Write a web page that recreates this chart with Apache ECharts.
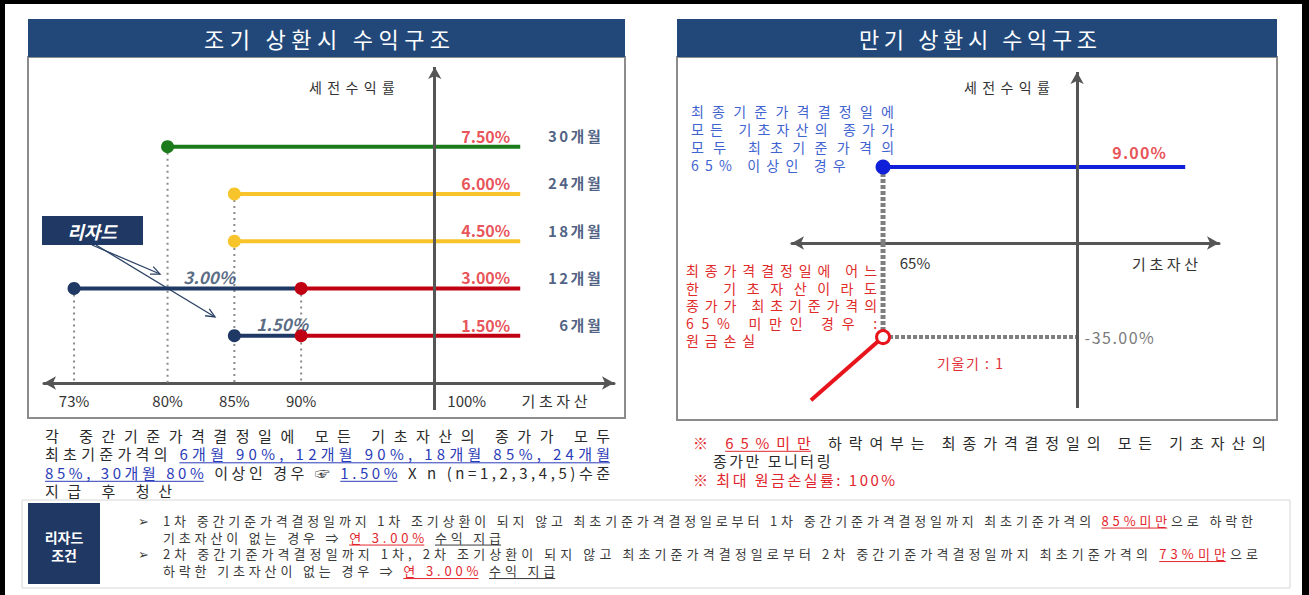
<!DOCTYPE html>
<html>
<head>
<meta charset="utf-8">
<script src="https://cdn.jsdelivr.net/npm/echarts@6/dist/echarts.min.js"></script>
<style>
  html, body { margin: 0; padding: 0; background: #fff; }
  #chart { width: 1309px; height: 595px; }
</style>
</head>
<body>
<div id="chart"></div>
<script>
// 조기 상환시 수익구조 (left)
const periods = ['30개월', '24개월', '18개월', '12개월', '6개월'];
const coupons = [7.5, 6.0, 4.5, 3.0, 1.5];
const barriers = [80, 85, 85, 90, 90];
const lizardBarriers = [null, null, null, 73, 85];
const lizardCoupons = [null, null, null, 3.0, 1.5];
const lineEnd = 106.4;
const earlyTicks = [73, 80, 85, 90, 100];

// 만기 상환시 수익구조 (right)
const maturityBarrier = 65;
const maturityCoupon = 9.0;
const maturityEnd = 119.5;
const lossAtBarrier = -35.0;
const lossLine = [[65, -35], [52, -58.5]];
const maturityTicks = [65];

const FONT = '"Noto Sans CJK KR", "Noto Sans", sans-serif';
const navy = '#1f3864';
const red = '#e2262e';
const dark = '#2a2a2a';
const linkBlue = '#2b3cb8';
const lineColors = ['#1b7a1b', '#f7c42b', '#f7c42b', '#c00012', '#c00012'];

// pixel layout of the plot areas
const LG = { left: 44, top: 67, right: 614, bottom: 383, xMin: 70.75, xMax: 113.42, yMin: 0, yMax: 10.03 };
const LB = { left: 44, top: 383, right: 614, bottom: 410, xMin: 70.75, xMax: 113.42, yMin: -0.857, yMax: 0 };
const RT = { left: 792, top: 72, right: 1219, bottom: 243, xMin: 48.58, xMax: 125.6, yMin: 0, yMax: 20.25 };
const RB = { left: 792, top: 243, right: 1219, bottom: 408, xMin: 48.58, xMax: 125.6, yMin: -61.4, yMax: 0 };

function gridOf(g) {
  return { left: g.left, top: g.top, width: g.right - g.left, height: g.bottom - g.top, outerBoundsMode: 'none' };
}

// ---------- text helpers (letter-spaced rows, like the source document) ----------
const mctx = document.createElement('canvas').getContext('2d');
function tw(t, font) { mctx.font = font; return mctx.measureText(t).width; }
const spacing = {};
function spaceKey(text, size, weight) {
  return text + '|' + size + '|' + (String(weight || '').indexOf('bold') >= 0 ? '700' : '400');
}

function textRow(out, pieces, opt) {
  const size = opt.size || 16;
  const weight = opt.weight || 'normal';
  const font = weight + ' ' + size + 'px ' + FONT;
  const spaceW = tw(' ', font);
  const parts = pieces.map(p => {
    const core = p[0].trim();
    const lead = p[0].length - p[0].replace(/^ +/, '').length;
    const trail = p[0].length - p[0].replace(/ +$/, '').length;
    return { lead: core ? lead : 0, trail: core ? trail : p[0].length, core,
      n: Array.from(core).length, w: core ? tw(core, font) : 0, c: p[1], u: !!p[2] };
  });
  const natural = parts.reduce((s, p) => s + (p.lead + p.trail) * spaceW + p.w, 0);
  const nChars = parts.reduce((s, p) => s + p.lead + p.trail + p.n, 0);
  let ls = opt.ls || 0;
  if (opt.x1 != null) ls = (opt.x1 - opt.x0 - natural) / (nChars - 1);
  let x = opt.x0;
  parts.forEach(p => {
    x += p.lead * (spaceW + ls);
    if (p.core) {
      out.push({ type: 'text', x: x, y: opt.y,
        style: { text: p.core, font: font, fill: p.c, align: 'left', verticalAlign: 'middle' } });
      spacing[spaceKey(p.core, size, weight)] = ls;
      if (p.u) {
        const uy = opt.y + size * 0.62;
        out.push({ type: 'line', shape: { x1: x, y1: uy, x2: x + p.w + (p.n - 1) * ls, y2: uy },
          style: { stroke: p.c, lineWidth: 1 } });
      }
      x += p.w + p.n * ls;
    }
    x += p.trail * (spaceW + ls);
  });
  return ls;
}

function spacedText(out, text, cx, y, size, color, width, weight) {
  textRow(out, [[text, color]], { x0: cx - width / 2, x1: cx + width / 2, y: y, size: size, weight: weight });
}

function label(out, text, x, y, size, color, weight) {
  out.push({ type: 'text', x: x, y: y,
    style: { text: text, font: (weight || 'normal') + ' ' + size + 'px ' + FONT,
      fill: color, align: 'center', verticalAlign: 'middle' } });
}

function arrow(out, x1, y1, x2, y2) {
  const a = Math.atan2(y2 - y1, x2 - x1), L = 10, s = 0.42;
  out.push({ type: 'line', shape: { x1, y1, x2, y2 }, style: { stroke: '#2c4366', lineWidth: 1.3 } });
  out.push({ type: 'polyline', shape: { points: [
      [x2 - L * Math.cos(a - s), y2 - L * Math.sin(a - s)], [x2, y2],
      [x2 - L * Math.cos(a + s), y2 - L * Math.sin(a + s)]] },
    style: { stroke: '#2c4366', lineWidth: 1.3, fill: 'none' } });
}

// ---------- graphic (frames, panels, notes) ----------
const g = [];
g.push({ type: 'rect', shape: { x: 0, y: 0, width: 1309, height: 4 }, style: { fill: '#000' } });
g.push({ type: 'rect', shape: { x: 0, y: 0, width: 5, height: 595 }, style: { fill: '#000' } });
g.push({ type: 'rect', shape: { x: 1302, y: 0, width: 7, height: 595 }, style: { fill: '#000' } });

[[28, 625, 418, '조기 상환시 수익구조', 327, 246], [677, 1277, 420, '만기 상환시 수익구조', 978, 238]].forEach(p => {
  g.push({ type: 'rect', shape: { x: p[0], y: 57, width: p[1] - p[0], height: p[2] - 57 },
    style: { fill: '#fff', stroke: '#8c8c8c', lineWidth: 2 } });
  g.push({ type: 'rect', shape: { x: p[0], y: 19, width: p[1] - p[0], height: 38 }, style: { fill: '#22487a' } });
  spacedText(g, p[3], p[4], 38, 22, '#fff', p[5]);
});

// axis titles
spacedText(g, '세전수익률', 353, 87, 14, '#333', 88);
spacedText(g, '기초자산', 556, 400, 15, '#333', 69);
spacedText(g, '세전수익률', 1007, 87, 14, '#333', 86);
spacedText(g, '기초자산', 1165, 263, 15, '#333', 66);
spacedText(g, '기울기 : 1', 970, 363, 14, '#e0303a', 66);

// 리자드 tag and arrows
g.push({ type: 'rect', shape: { x: 42, y: 216, width: 101, height: 29 }, style: { fill: navy } });
label(g, '리자드', 92, 231, 18, '#fff', 'italic bold');
arrow(g, 92, 245, 160, 274);
arrow(g, 96, 245, 215, 317);

// notes inside the maturity panel
const blueNote = '#3f63cf';
const lsB = textRow(g, [['모든 기초자산의 종가가', blueNote]], { x0: 691, x1: 894, y: 129, size: 14 });
textRow(g, [['최종기준가격결정일에', blueNote]], { x0: 691, x1: 894, y: 111, size: 14 });
textRow(g, [['모두 최초기준가격의', blueNote]], { x0: 691, x1: 894, y: 147, size: 14 });
textRow(g, [['65% 이상인 경우', blueNote]], { x0: 691, y: 165, size: 14, ls: lsB });

const redNote = '#e02a2a';
const lsR = textRow(g, [['최종가격결정일에 어느', redNote]], { x0: 686, x1: 877, y: 270, size: 14 });
textRow(g, [['한 기초자산이라도', redNote]], { x0: 686, x1: 877, y: 287.5, size: 14 });
textRow(g, [['종가가 최초기준가격의', redNote]], { x0: 686, x1: 877, y: 305, size: 14 });
textRow(g, [['65% 미만인 경우 :', redNote]], { x0: 686, x1: 877, y: 322.5, size: 14 });
textRow(g, [['원금손실', redNote]], { x0: 686, y: 340, size: 14, ls: lsR });

// text under the left panel
const lsL = textRow(g, [['각 중간기준가격결정일에 모든 기초자산의 종가가 모두', dark]], { x0: 45, x1: 610, y: 435, size: 15 });
textRow(g, [['최초기준가격의 ', dark], ['6개월 90%, 12개월 90%, 18개월 85%, 24개월', linkBlue, 1]],
  { x0: 45, x1: 610, y: 453.5, size: 15 });
textRow(g, [['85%, 30개월 80%', linkBlue, 1], [' 이상인 경우 ☞ ', dark], ['1.50%', linkBlue, 1], [' X n (n=1,2,3,4,5)수준', dark]],
  { x0: 45, x1: 610, y: 472, size: 15 });
textRow(g, [['지급 후 청산', dark]], { x0: 45, y: 490.5, size: 15, ls: lsL });

// text under the right panel
textRow(g, [['※ ', red], ['65%미만', red, 1], [' 하락여부는 최종가격결정일의 모든 기초자산의', dark]],
  { x0: 693, x1: 1266, y: 442, size: 15 });
textRow(g, [['종가만 모니터링', dark]], { x0: 713, y: 460.5, size: 15, ls: 2.5 });
textRow(g, [['※ 최대 원금손실률: 100%', red]], { x0: 693, y: 479, size: 15, ls: 2.5 });

// 리자드 조건 box
g.push({ type: 'rect', shape: { x: 22, y: 500, width: 1268, height: 88 }, style: { fill: 'none', stroke: '#d6d6d6', lineWidth: 1 } });
g.push({ type: 'rect', shape: { x: 28, y: 503, width: 72, height: 81 }, style: { fill: navy } });
label(g, '리자드', 64, 537, 14, '#fff', 'bold');
label(g, '조건', 64, 555, 14, '#fff', 'bold');
const bodyC = '#3a3a3a';
label(g, '➢', 143, 520, 13, bodyC);
label(g, '➢', 143, 553.5, 13, bodyC);
const lsC = textRow(g, [['1차 중간기준가격결정일까지 1차 조기상환이 되지 않고 최초기준가격결정일로부터 1차 중간기준가격결정일까지 최초기준가격의 ', bodyC],
  ['85%미만', red, 1], ['으로 하락한', bodyC]], { x0: 163, x1: 1253, y: 520, size: 13 });
textRow(g, [['기초자산이 없는 경우 ⇒ ', bodyC], ['연 3.00%', red, 1], [' ', bodyC], ['수익 지급', bodyC, 1]],
  { x0: 163, y: 537, size: 13, ls: lsC });
textRow(g, [['2차 중간기준가격결정일까지 1차, 2차 조기상환이 되지 않고 최초기준가격결정일로부터 2차 중간기준가격결정일까지 최초기준가격의 ', bodyC],
  ['73%미만', red, 1], ['으로', bodyC]], { x0: 163, x1: 1258, y: 553.5, size: 13 });
textRow(g, [['하락한 기초자산이 없는 경우 ⇒ ', bodyC], ['연 3.00%', red, 1], [' ', bodyC], ['수익 지급', bodyC, 1]],
  { x0: 163, y: 570.5, size: 13, ls: lsC });

// series labels that are letter-spaced in the source
periods.forEach(p => { spacing[spaceKey(p, 15, 'bold')] = 2.5; });
spacing[spaceKey('-35.00%', 16, 'normal')] = 1.5;
spacing[spaceKey('9.00%', 16, 'bold')] = 1.2;

// ---------- series ----------
const series = [];
const axisStyle = { color: '#555', width: 3 };
const yAxisLine = (arrowTop) => ({
  silent: true, symbol: ['none', arrowTop ? 'arrow' : 'none'], symbolSize: [10, 12],
  label: { show: false }, lineStyle: Object.assign({ type: 'solid' }, axisStyle), data: [{ xAxis: 100 }]
});

// dotted guides from each start dot down to the x axis
const guideTop = {};
barriers.forEach((b, i) => { guideTop[b] = Math.max(guideTop[b] || 0, coupons[i]); });
lizardBarriers.forEach((b, i) => { if (b != null) guideTop[b] = Math.max(guideTop[b] || 0, lizardCoupons[i]); });
Object.keys(guideTop).forEach((k, idx) => {
  series.push({
    type: 'line', xAxisIndex: 0, yAxisIndex: 0, silent: true, symbol: 'none', z: 1,
    data: [[+k, guideTop[k]], [+k, 0]],
    lineStyle: { color: '#8a8a8a', width: 2, type: [2, 4] },
    markLine: idx === 0 ? yAxisLine(true) : undefined
  });
});
// y axis continues below the x axis
series.push({ type: 'line', xAxisIndex: 1, yAxisIndex: 1, silent: true, symbol: 'none',
  data: [[100, 0]], markLine: yAxisLine(false) });

periods.forEach((p, i) => {
  series.push({
    type: 'line', name: p, xAxisIndex: 0, yAxisIndex: 0, z: 3,
    symbol: 'circle', showSymbol: true,
    data: [{ value: [barriers[i], coupons[i]], symbolSize: 13 }, { value: [lineEnd, coupons[i]], symbolSize: 0 }],
    itemStyle: { color: lineColors[i] },
    lineStyle: { color: lineColors[i], width: 4 }
  });
  if (lizardBarriers[i] != null) {
    series.push({
      type: 'line', name: p + ' 리자드', xAxisIndex: 0, yAxisIndex: 0, z: 2,
      symbol: 'circle', showSymbol: true,
      data: [{ value: [lizardBarriers[i], lizardCoupons[i]], symbolSize: 13 }, { value: [barriers[i], lizardCoupons[i]], symbolSize: 0 }],
      itemStyle: { color: navy },
      lineStyle: { color: navy, width: 4 }
    });
  }
});

const hidden = { color: 'rgba(0,0,0,0)' };
series.push({
  type: 'scatter', xAxisIndex: 0, yAxisIndex: 0, symbolSize: 1, itemStyle: hidden, z: 4, silent: true,
  data: coupons.map(c => [lineEnd, c]),
  label: { show: true, position: 'inside', align: 'right', offset: [-10, -11],
    formatter: d => d.value[1].toFixed(2) + '%', color: red, fontWeight: 'bold', fontSize: 16 }
});
series.push({
  type: 'scatter', xAxisIndex: 0, yAxisIndex: 0, symbolSize: 1, itemStyle: hidden, z: 4, silent: true,
  data: coupons.map((c, i) => ({ value: [lineEnd, c], name: periods[i] })),
  label: { show: true, position: 'inside', align: 'right', offset: [83, -11],
    formatter: d => d.name, color: navy, fontWeight: 'bold', fontSize: 15 }
});
const lizOffsets = { 3: [-66, -12], 4: [7, -12] };
series.push({
  type: 'scatter', xAxisIndex: 0, yAxisIndex: 0, symbolSize: 1, itemStyle: hidden, z: 4, silent: true,
  data: lizardCoupons.map((c, i) => c == null ? null : {
    value: [barriers[i], c], label: { offset: lizOffsets[i] } }).filter(Boolean),
  label: { show: true, position: 'inside', align: 'right',
    formatter: d => d.value[1].toFixed(2) + '%', color: '#2f4565', fontWeight: 'bold', fontStyle: 'italic', fontSize: 17 }
});

// maturity chart, upper half
series.push({
  type: 'line', xAxisIndex: 2, yAxisIndex: 2, silent: true, symbol: 'none', z: 1,
  data: [[maturityBarrier, maturityCoupon], [maturityBarrier, 0]],
  lineStyle: { color: '#7f7f7f', width: 5, type: [4, 2] },
  markLine: yAxisLine(true)
});
series.push({
  type: 'line', name: '만기 수익', xAxisIndex: 2, yAxisIndex: 2, z: 3, symbol: 'circle', showSymbol: true,
  data: [{ value: [maturityBarrier, maturityCoupon], symbolSize: 15 }, { value: [maturityEnd, maturityCoupon], symbolSize: 0 }],
  itemStyle: { color: '#1020d8' }, lineStyle: { color: '#1020d8', width: 4 }
});
series.push({
  type: 'scatter', xAxisIndex: 2, yAxisIndex: 2, symbolSize: 1, itemStyle: hidden, z: 4, silent: true,
  data: [[maturityEnd, maturityCoupon]],
  label: { show: true, position: 'inside', align: 'right', offset: [-18, -15],
    formatter: d => d.value[1].toFixed(2) + '%', color: red, fontWeight: 'bold', fontSize: 16 }
});

// maturity chart, lower half
series.push({
  type: 'line', xAxisIndex: 3, yAxisIndex: 3, silent: true, symbol: 'none', z: 1,
  data: [[maturityBarrier, 0], [maturityBarrier, lossAtBarrier]],
  lineStyle: { color: '#7f7f7f', width: 5, type: [4, 2] },
  markLine: yAxisLine(false)
});
series.push({
  type: 'line', xAxisIndex: 3, yAxisIndex: 3, silent: true, symbol: 'none', z: 1,
  data: [[maturityBarrier, lossAtBarrier], [100, lossAtBarrier]],
  lineStyle: { color: '#7f7f7f', width: 4, type: [4, 2] }
});
series.push({
  type: 'scatter', xAxisIndex: 3, yAxisIndex: 3, symbolSize: 1, itemStyle: hidden, z: 4, silent: true,
  data: [[100, lossAtBarrier]],
  label: { show: true, position: 'right', distance: 7,
    formatter: d => d.value[1].toFixed(2) + '%', color: '#555', fontSize: 16 }
});
series.push({
  type: 'line', name: '원금손실', xAxisIndex: 3, yAxisIndex: 3, z: 3, symbol: 'circle', showSymbol: true,
  data: [{ value: lossLine[0], symbolSize: 13 }, { value: lossLine[1], symbolSize: 0 }],
  itemStyle: { color: '#fff', borderColor: '#e8141c', borderWidth: 3 },
  lineStyle: { color: '#e8141c', width: 4 }
});

// ---------- axes ----------
const xAxisBase = {
  type: 'value', splitLine: { show: false }, axisTick: { show: false },
  axisLine: { onZero: true, symbol: ['arrow', 'arrow'], symbolSize: [10, 12], lineStyle: axisStyle }
};
const hiddenX = (gi, r) => ({ type: 'value', gridIndex: gi, min: r.xMin, max: r.xMax, show: false, splitLine: { show: false } });
const yAxisOf = (gi, r) => ({ type: 'value', gridIndex: gi, min: r.yMin, max: r.yMax, show: false, splitLine: { show: false } });

const chart = echarts.init(document.getElementById('chart'), null, { renderer: 'svg' });

function applySpacing() {
  chart.getDom().querySelectorAll('text').forEach(n => {
    const cs = getComputedStyle(n);
    const key = n.textContent + '|' + parseFloat(cs.fontSize) + '|' + (parseInt(cs.fontWeight, 10) >= 600 ? '700' : '400');
    const ls = spacing[key];
    if (ls) {
      n.setAttribute('letter-spacing', ls.toFixed(2));
      n.style.letterSpacing = ls.toFixed(2) + 'px';
    }
  });
}
chart.on('rendered', applySpacing);

chart.setOption({
  animation: false,
  backgroundColor: '#fff',
  textStyle: { fontFamily: FONT },
  grid: [gridOf(LG), gridOf(LB), gridOf(RT), gridOf(RB)],
  xAxis: [
    Object.assign({}, xAxisBase, {
      gridIndex: 0, min: LG.xMin, max: LG.xMax,
      axisLabel: { customValues: earlyTicks, margin: 10, color: '#333', fontSize: 15,
        formatter: v => v === 100 ? '{far|100%}' : v + '%',
        rich: { far: { padding: [0, 0, 0, 64], color: '#333', fontSize: 15 } } }
    }),
    hiddenX(1, LB),
    Object.assign({}, xAxisBase, {
      gridIndex: 2, min: RT.xMin, max: RT.xMax,
      axisLabel: { customValues: maturityTicks, margin: 12, color: '#333', fontSize: 15,
        formatter: v => '{s|' + v + '%}',
        rich: { s: { padding: [0, 0, 0, 64], color: '#333', fontSize: 15 } } }
    }),
    hiddenX(3, RB)
  ],
  yAxis: [yAxisOf(0, LG), yAxisOf(1, LB), yAxisOf(2, RT), yAxisOf(3, RB)],
  graphic: g,
  series: series
});
applySpacing();
</script>
</body>
</html>
